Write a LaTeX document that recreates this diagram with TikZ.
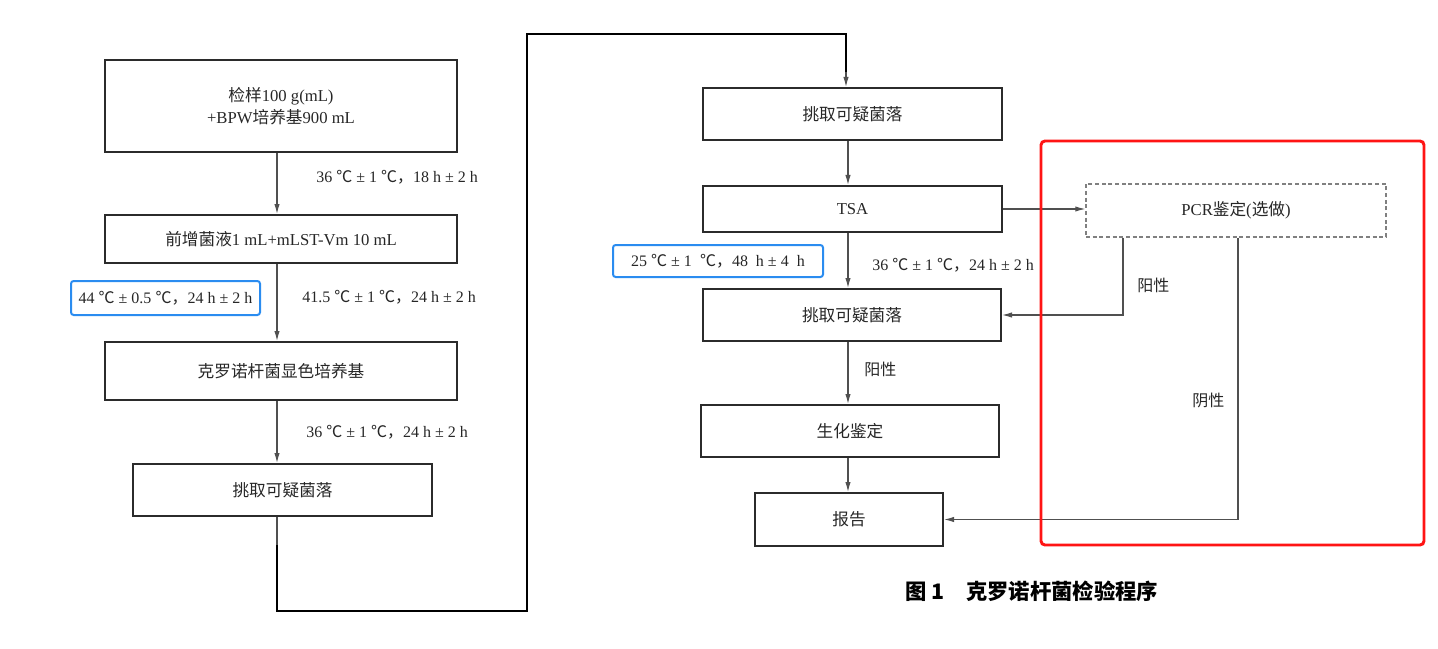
\documentclass[tikz,border=0pt]{standalone}
\usepackage{fontspec}
\setmainfont{Liberation Serif}
\newfontfamily\cjk{Noto Sans CJK SC}
\usetikzlibrary{arrows.meta}
\definecolor{boxline}{HTML}{2B2B2B}
\definecolor{arrline}{HTML}{505050}
\definecolor{hlblue}{HTML}{2A8CF0}
\definecolor{hlred}{HTML}{FF1414}
\newcommand{\cn}[1]{{\cjk #1}}
\newcommand{\dc}{{\cjk ℃}}
\newcommand{\pmx}{\hspace{0.25em}±\hspace{0.25em}}

\tikzset{
  box/.style={draw=boxline, line width=1.5pt, minimum width=264pt, inner sep=0pt,
    align=center, text=black!85, font=\fontsize{12.5}{16}\selectfont},
  pcrbox/.style={box, draw=gray, densely dashed, line width=1pt},
  arr/.style={draw=arrline, line width=0.8pt, -{Latex[length=7.5pt,width=4pt]}},
  lnk/.style={black, line width=1.5pt},
  cond/.style={anchor=west, inner sep=0pt, text=black!85, font=\fontsize{12}{14}\selectfont},
  hlbox/.style={draw=hlblue, line width=1.5pt, rounded corners=2pt, inner sep=0pt,
    text=black!85, font=\fontsize{12}{14}\selectfont}
}

\begin{document}
\begin{tikzpicture}[x=0.75pt,y=-0.75pt]
\useasboundingbox (0,0) rectangle (1438,649);

% left column
\coordinate (c1) at (277,0);
\node[box, minimum height=69pt] (b1) at (281,106) {\cn{检样}100 g(mL)\\+BPW\cn{培养基}900 mL};
\node[box, minimum height=36pt] (b2) at (281,239) {\cn{前增菌液}1 mL+mLST-Vm 10 mL};
\node[box, minimum height=43.5pt] (b3) at (281,371) {\cn{克罗诺杆菌显色培养基}};
\node[box, minimum width=224.25pt, minimum height=39pt] (b4) at (282.5,490) {\cn{挑取可疑菌落}};

\node[cond] (t1) at (316,177) {36 \dc\pmx 1 \dc\cn{，}18 h\pmx 2 h};
\node[cond] (t2) at (302,297) {41.5 \dc\pmx 1 \dc\cn{，}24 h\pmx 2 h};
\node[cond] (t3) at (306,432) {36 \dc\pmx 1 \dc\cn{，}24 h\pmx 2 h};
\node[hlbox, minimum width=141.75pt, minimum height=25.5pt] (h1) at (165.5,298) {44 \dc\pmx 0.5 \dc\cn{，}24 h\pmx 2 h};

\draw[arr] (b1.south -| c1) -- (b2.north -| c1);
\draw[arr] (b2.south -| c1) -- (b3.north -| c1);
\draw[arr] (b3.south -| c1) -- (b4.north -| c1);

% link to right column
\coordinate (j1) at (277,545);
\coordinate (k1) at (277,611);
\coordinate (k2) at (527,34);
\coordinate (j2) at (846,72);
\draw[arrline, line width=0.8pt] (b4.south -| c1) -- (j1);
\draw[lnk] (j1) -- (k1) -| (k2) -| (j2);

% right column
\coordinate (c2) at (848,0);
\node[box, minimum width=224.25pt, minimum height=39pt] (b5) at (852.5,114) {\cn{挑取可疑菌落}};
\node[box, minimum width=224.25pt, minimum height=34.5pt] (b6) at (852.5,209) {TSA};
\node[box, minimum width=223.5pt, minimum height=39pt] (b7) at (852,315) {\cn{挑取可疑菌落}};
\node[box, minimum width=223.5pt, minimum height=39pt] (b8) at (850,431) {\cn{生化鉴定}};
\node[box, minimum width=141pt, minimum height=39.75pt] (b9) at (849,519.5) {\cn{报告}};
\node[pcrbox, minimum width=225pt, minimum height=39.75pt] (pcr) at (1236,210.5) {PCR\cn{鉴定}(\cn{选做})};

\node[cond] (t4) at (872,265) {36 \dc\pmx 1 \dc\cn{，}24 h\pmx 2 h};
\node[hlbox, minimum width=157.5pt, minimum height=24pt] (h2) at (718,261) {25 \dc\pmx 1 \ \dc\cn{，}48 \ h\pmx 4 \ h};
\node[cond] (pos1) at (1137,285) {\cn{阳性}};
\node[cond] (pos2) at (864,369) {\cn{阳性}};
\node[cond] (neg) at (1192,400) {\cn{阴性}};

\draw[arr] (j2) -- (b5.north -| j2);
\draw[arr] (b5.south -| c2) -- (b6.north -| c2);
\draw[arr] (b6.east) -- (b6.east -| pcr.west);
\draw[arr] (b6.south -| c2) -- (b7.north -| c2);
\draw[arr] (b7.south -| c2) -- (b8.north -| c2);
\draw[arr] (b8.south -| c2) -- (b9.north -| c2);

\coordinate (p1) at (1123,0);
\coordinate (p2) at (1238,0);
\draw[arr] (pcr.south -| p1) |- (b7.east);
\draw[arr] (pcr.south -| p2) |- (b9.east);

% highlight
\draw[hlred, line width=2.2pt, rounded corners=3pt] (1041,141) rectangle (1424,545);

\node[font=\cjk\bfseries\fontsize{16}{19}\selectfont] (title) at (1032,591) {图 1\quad 克罗诺杆菌检验程序};
\end{tikzpicture}
\end{document}
